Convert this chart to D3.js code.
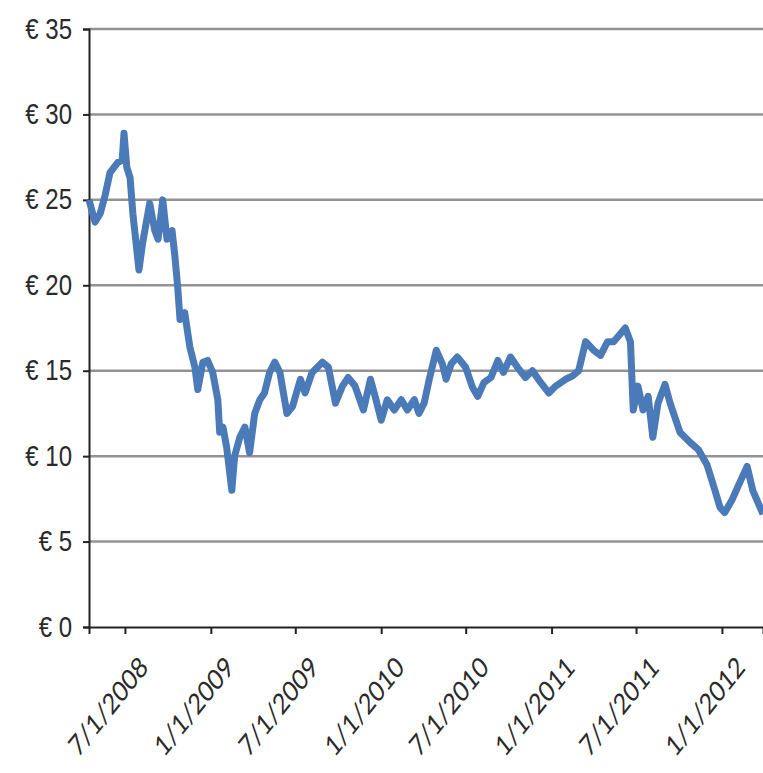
<!DOCTYPE html>
<html>
<head>
<meta charset="utf-8">
<script src="https://cdn.jsdelivr.net/npm/d3@7"></script>
<style>
  body { margin: 0; background: #fff; }
</style>
</head>
<body>
<div id="chart"></div>
<script>
// share price
var dates = [
    "2008-04-15", "2008-04-28", "2008-05-09", "2008-05-19", "2008-05-30", "2008-06-16", "2008-06-25", "2008-06-29",
    "2008-07-05", "2008-07-12", "2008-07-18", "2008-07-31", "2008-08-08", "2008-08-23", "2008-09-03", "2008-09-10",
    "2008-09-20", "2008-09-29", "2008-10-10", "2008-10-16", "2008-10-22", "2008-10-27", "2008-11-06", "2008-11-17",
    "2008-11-28", "2008-12-04", "2008-12-15", "2008-12-25", "2009-01-05", "2009-01-16", "2009-01-20", "2009-01-27",
    "2009-02-04", "2009-02-15", "2009-02-21", "2009-03-04", "2009-03-15", "2009-03-25", "2009-04-05", "2009-04-16",
    "2009-04-26", "2009-05-07", "2009-05-18", "2009-05-29", "2009-06-13", "2009-06-25", "2009-07-12", "2009-07-22",
    "2009-08-06", "2009-08-28", "2009-09-10", "2009-09-25", "2009-10-10", "2009-10-22", "2009-11-06", "2009-11-24",
    "2009-12-09", "2009-12-19", "2010-01-01", "2010-01-14", "2010-01-29", "2010-02-13", "2010-02-26", "2010-03-13",
    "2010-03-23", "2010-04-03", "2010-04-14", "2010-04-29", "2010-05-12", "2010-05-20", "2010-05-31", "2010-06-13",
    "2010-07-01", "2010-07-16", "2010-07-27", "2010-08-09", "2010-08-24", "2010-09-08", "2010-09-20", "2010-10-05",
    "2010-10-20", "2010-11-06", "2010-11-21", "2010-12-09", "2010-12-26", "2011-01-10", "2011-01-31", "2011-02-15",
    "2011-02-28", "2011-03-15", "2011-04-01", "2011-04-16", "2011-05-01", "2011-05-14", "2011-06-08", "2011-06-19",
    "2011-06-25", "2011-07-05", "2011-07-16", "2011-07-27", "2011-08-06", "2011-08-17", "2011-09-01", "2011-09-12",
    "2011-10-03", "2011-10-25", "2011-11-11", "2011-11-30", "2011-12-17", "2011-12-28", "2012-01-07", "2012-01-22",
    "2012-02-04", "2012-02-24", "2012-03-07", "2012-03-29"
];
var prices = [
    25.0, 23.7, 24.2, 25.2, 26.6, 27.2, 27.3, 28.9,
    26.9, 26.3, 24.2, 20.9, 22.5, 24.8, 23.2, 22.7,
    25.0, 22.7, 23.2, 21.7, 19.9, 18.0, 18.4, 16.4,
    15.2, 13.9, 15.5, 15.6, 14.9, 13.3, 11.4, 11.7,
    10.5, 8.0, 10.0, 11.1, 11.7, 10.2, 12.5, 13.3,
    13.7, 14.9, 15.5, 14.9, 12.5, 12.9, 14.5, 13.7,
    14.9, 15.5, 15.2, 13.1, 14.1, 14.6, 14.1, 12.7,
    14.5, 13.5, 12.1, 13.3, 12.7, 13.3, 12.7, 13.3,
    12.5, 13.1, 14.5, 16.2, 15.4, 14.5, 15.4, 15.8,
    15.2, 14.0, 13.5, 14.3, 14.6, 15.6, 14.9, 15.8,
    15.2, 14.6, 15.0, 14.3, 13.7, 14.1, 14.5, 14.7,
    15.0, 16.7, 16.2, 15.9, 16.7, 16.7, 17.5, 16.7,
    12.7, 14.1, 12.7, 13.5, 11.1, 13.1, 14.2, 13.1,
    11.4, 10.8, 10.4, 9.5, 8.0, 7.0, 6.7, 7.4,
    8.2, 9.4, 8.0, 6.6
];
var yTicks = [0, 5, 10, 15, 20, 25, 30, 35];
var xTicks = ["2008-07-01", "2009-01-01", "2009-07-01", "2010-01-01", "2010-07-01", "2011-01-01", "2011-07-01", "2012-01-01"];

var margin = { top: 29, right: 0, bottom: 146, left: 89 },
    width = 763 - margin.left - margin.right,
    height = 773 - margin.top - margin.bottom;

var parseDate = d3.timeParse("%Y-%m-%d");
var fmt = d3.timeFormat("%-m/%-d/%Y");

var data = dates.map(function (d, i) {
    return { date: parseDate(d), price: prices[i] };
});

var x = d3.scaleTime()
    .domain([parseDate(dates[0]), parseDate(dates[dates.length - 1])])
    .range([0, width]);
var y = d3.scaleLinear().domain([0, 35]).range([height, 0]);

var svg = d3.select("#chart")
    .append("svg")
    .attr("width", 763)
    .attr("height", 773)
    .append("g")
    .attr("transform", "translate(" + margin.left + "," + margin.top + ")");

// grid lines
svg.append("g")
    .selectAll("line")
    .data(yTicks.filter(function (d) { return d > 0; }))
    .enter()
    .append("line")
    .attr("x1", 0)
    .attr("x2", width)
    .attr("y1", function (d) { return y(d); })
    .attr("y2", function (d) { return y(d); })
    .attr("stroke", "#939393")
    .attr("stroke-width", 2.5);

// y axis
var yAxis = svg.append("g")
    .call(d3.axisLeft(y).tickValues(yTicks).tickSize(6).tickFormat(function (d) { return "€ " + d; }));
yAxis.select(".domain").attr("stroke", "#222").attr("stroke-width", 2);
yAxis.selectAll(".tick line").attr("stroke", "#222").attr("stroke-width", 2);
yAxis.selectAll(".tick text")
    .attr("x", null)
    .attr("dy", null)
    .attr("text-anchor", "end")
    .attr("transform", "translate(-17,9) scale(1,1.22)")
    .style("font-family", "'Liberation Sans', Arial, sans-serif")
    .style("font-size", "24px")
    .attr("fill", "#2a2a2a");

// x axis
var xAxis = svg.append("g")
    .attr("transform", "translate(0," + height + ")")
    .call(d3.axisBottom(x).tickValues(xTicks.map(parseDate)).tickSize(7).tickSizeOuter(7).tickFormat(fmt));
xAxis.select(".domain").attr("stroke", "#222").attr("stroke-width", 2);
xAxis.selectAll(".tick line").attr("stroke", "#222").attr("stroke-width", 2);
xAxis.selectAll(".tick text")
    .attr("y", null)
    .attr("dy", null)
    .attr("text-anchor", "end")
    .attr("transform", "translate(24,42) scale(1,1.25) rotate(-45)")
    .style("font-family", "Lato, 'Open Sans', sans-serif")
    .style("font-size", "23px")
    .attr("fill", "#2a2a2a");

// the price line
svg.append("path")
    .datum(data)
    .attr("fill", "none")
    .attr("stroke", "#4a7ab8")
    .attr("stroke-width", 7)
    .attr("stroke-linejoin", "round")
    .attr("d", d3.line()
        .x(function (d) { return x(d.date); })
        .y(function (d) { return y(d.price); }));
</script>
</body>
</html>
